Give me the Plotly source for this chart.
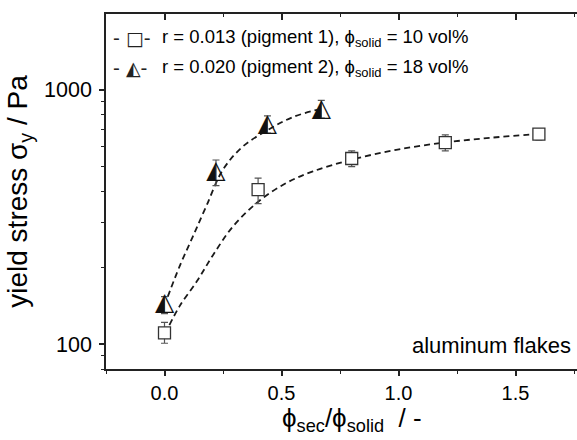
import math
import plotly.graph_objects as go

# ---- data ----
x_p1 = [0.0, 0.4, 0.8, 1.2, 1.6]
y_p1 = [111, 405, 537, 620, 670]
err_p1_up = [11, 45, 38, 45, 30]
err_p1_dn = [10, 48, 38, 45, 34]

x_p2 = [0.0, 0.22, 0.44, 0.67]
y_p2 = [144, 475, 732, 838]
err_p2_up = [10, 55, 58, 70]
err_p2_dn = [12, 55, 56, 64]

# dashed guide curves
fit1_x = [0.021, 0.064, 0.142, 0.207, 0.292, 0.402, 0.52, 0.634, 0.798, 0.99, 1.2, 1.403, 1.598]
fit1_y = [119, 141, 179, 224, 290, 364, 430, 478, 531, 581, 621, 649, 671]
fit2_x = [0.014, 0.064, 0.121, 0.178, 0.249, 0.335, 0.444, 0.548, 0.665]
fit2_y = [154, 202, 265, 348, 484, 599, 697, 781, 840]

x_ticks = [0.0, 0.5, 1.0, 1.5]
x_minor = [-0.25, 0.25, 0.75, 1.25, 1.75]
y_ticks = [100, 1000]
y_minor = [80, 90, 200, 300, 400, 500, 600, 700, 800, 900]

x_title = "ϕ<sub>sec</sub>/ϕ<sub>solid</sub>  / -"
y_title = "yield stress σ<sub>y</sub> / Pa"
legend_1 = "r = 0.013 (pigment 1), ϕ<sub>solid</sub> = 10 vol%"
legend_2 = "r = 0.020 (pigment 2), ϕ<sub>solid</sub> = 18 vol%"

W, H = 577, 440
ML, MT, MB, MR = 106, 14, 71, 0
PW, PH = W - ML - MR, H - MT - MB

def px_x(px):
    return (px - ML) / PW

def px_y(py):
    return (H - MB - py) / PH

AX = "#222222"
FONT = "Liberation Sans, Arial, sans-serif"

fig = go.Figure()

fig.add_trace(go.Scatter(x=fit1_x, y=fit1_y, mode="lines", line_shape="spline",
                         line=dict(color="#1a1a1a", width=1.8, dash="6px,4px"),
                         showlegend=False, hoverinfo="skip"))
fig.add_trace(go.Scatter(x=fit2_x, y=fit2_y, mode="lines", line_shape="spline",
                         line=dict(color="#1a1a1a", width=1.8, dash="6px,4px"),
                         showlegend=False, hoverinfo="skip"))

fig.add_trace(go.Scatter(
    x=x_p1, y=y_p1, mode="markers", name="pigment 1",
    marker=dict(symbol="square", size=12, color="white", line=dict(color="#333333", width=1.3)),
    error_y=dict(type="data", symmetric=False, array=err_p1_up, arrayminus=err_p1_dn,
                 color="#555555", thickness=1.2, width=3.5),
    showlegend=False))

fig.add_trace(go.Scatter(
    x=x_p2, y=y_p2, mode="markers", name="pigment 2 err",
    marker=dict(size=1, color="rgba(0,0,0,0)"),
    error_y=dict(type="data", symmetric=False, array=err_p2_up, arrayminus=err_p2_dn,
                 color="#555555", thickness=1.2, width=3.5),
    showlegend=False, hoverinfo="skip"))
fig.add_trace(go.Scatter(
    x=x_p2, y=y_p2, mode="text", name="pigment 2",
    text=["◭"] * len(x_p2), textposition="middle center",
    textfont=dict(family="DejaVu Sans", size=25, color="#111111"),
    showlegend=False))

# dummy trace on top axis so it is drawn
fig.add_trace(go.Scatter(x=x_p1, y=y_p1, xaxis="x2", yaxis="y", mode="markers",
                         marker=dict(size=2, color="rgba(255,255,255,0)"),
                         showlegend=False, hoverinfo="skip"))

xr = [-0.25, -0.25 + PW / 234.0]
fig.update_layout(
    width=W, height=H,
    margin=dict(l=ML, r=MR, t=MT, b=MB),
    paper_bgcolor="white", plot_bgcolor="white",
    font=dict(family=FONT, color="black"),
    showlegend=False,
    xaxis=dict(range=xr, tickvals=x_ticks, ticktext=[f"{v:.1f}" for v in x_ticks],
               ticks="outside", ticklen=5, tickwidth=1.5, tickcolor=AX,
               showline=True, linecolor=AX, linewidth=1.5, showgrid=False, zeroline=False,
               tickfont=dict(size=20, family=FONT),
               minor=dict(tickvals=x_minor, ticks="outside", ticklen=3, tickwidth=1.3, tickcolor=AX)),
    xaxis2=dict(range=xr, overlaying="x", anchor="y", side="top", tickvals=x_ticks,
                ticktext=[""] * len(x_ticks), showticklabels=True,
                ticks="inside", ticklen=6, tickwidth=1.6, tickcolor=AX,
                showline=True, linecolor=AX, linewidth=1.5, showgrid=False, zeroline=False,
                minor=dict(tickvals=x_minor, ticks="inside", ticklen=3, tickwidth=1.3, tickcolor=AX)),
    yaxis=dict(type="log", range=[math.log10(80), math.log10(1985)],
               tickvals=y_ticks, ticktext=[str(v) for v in y_ticks],
               ticks="outside", ticklen=5, tickwidth=1.5, tickcolor=AX,
               showline=True, linecolor=AX, linewidth=1.5, showgrid=False, zeroline=False,
               tickfont=dict(size=21.5, family=FONT), ticklabelstandoff=3,
               minor=dict(tickvals=y_minor, ticks="outside", ticklen=3, tickwidth=1.3, tickcolor=AX),
               title=dict(text=y_title, font=dict(size=28, family=FONT), standoff=8)),
)

# x axis title (placed as text to match its offset in the reference)
fig.add_annotation(xref="paper", yref="paper", x=px_x(352), y=px_y(419), xanchor="center", yanchor="middle",
                   text=x_title, showarrow=False, font=dict(family=FONT, size=26, color="black"))

# legend drawn as text rows
fig.add_annotation(xref="paper", yref="paper", x=px_x(111), y=px_y(38), xanchor="left", yanchor="middle",
                   text="- □-", showarrow=False, font=dict(family="DejaVu Sans", size=19, color="#222"))
fig.add_annotation(xref="paper", yref="paper", x=px_x(111), y=px_y(68), xanchor="left", yanchor="middle",
                   text="- ◭-", showarrow=False, font=dict(family="DejaVu Sans", size=19, color="#222"))
fig.add_annotation(xref="paper", yref="paper", x=px_x(160), y=px_y(38), xanchor="left", yanchor="middle",
                   text=legend_1, showarrow=False, font=dict(family=FONT, size=18.5, color="black"))
fig.add_annotation(xref="paper", yref="paper", x=px_x(160), y=px_y(68), xanchor="left", yanchor="middle",
                   text=legend_2, showarrow=False, font=dict(family=FONT, size=18.5, color="black"))

fig.add_annotation(xref="paper", yref="paper", x=px_x(573), y=px_y(345), xanchor="right", yanchor="middle",
                   text="aluminum flakes", showarrow=False, font=dict(family=FONT, size=22, color="black"))

fig.write_html("out.html")
